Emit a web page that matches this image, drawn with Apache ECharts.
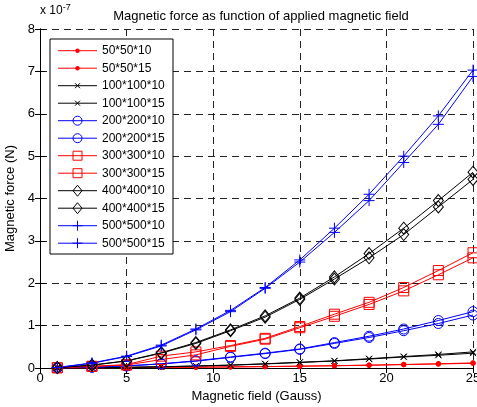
<!DOCTYPE html>
<html><head><meta charset="utf-8">
<script src="https://cdn.jsdelivr.net/npm/echarts@6/dist/echarts.min.js"></script>
<style>html,body{margin:0;padding:0;background:#fff}#c{width:477px;height:407px}</style>
</head><body><div id="c"></div>
<script>
const fieldGauss = [1,3,5,7,9,11,13,15,17,19,21,23,25];
const yTickLabels = ['0','1','2','3','4','5','6','7','8'];
const xTickLabels = ['0','5','10','15','20','25'];
// force in units of 1e-7 N
const f50_10  = [0.002,0.008,0.012,0.016,0.02,0.026,0.034,0.044,0.055,0.068,0.083,0.1,0.12];
const f50_15  = [0.002,0.007,0.011,0.015,0.019,0.025,0.032,0.042,0.052,0.065,0.08,0.095,0.11];
const f100_10 = [0.003,0.008,0.016,0.03,0.048,0.07,0.1,0.135,0.17,0.22,0.27,0.32,0.38];
const f100_15 = [0.003,0.007,0.015,0.028,0.045,0.066,0.095,0.13,0.165,0.21,0.26,0.3,0.35];
const f200_10 = [0.003,0.02,0.05,0.1,0.17,0.26,0.35,0.45,0.6,0.75,0.92,1.12,1.33];
const f200_15 = [0.003,0.018,0.048,0.095,0.16,0.25,0.34,0.44,0.58,0.72,0.88,1.05,1.25];
const f300_10 = [0.005,0.04,0.08,0.28,0.38,0.53,0.7,0.98,1.27,1.55,1.9,2.3,2.72];
const f300_15 = [0.005,0.038,0.07,0.2,0.31,0.51,0.68,0.95,1.22,1.5,1.82,2.2,2.6];
const f400_10 = [0.01,0.07,0.17,0.36,0.6,0.9,1.23,1.65,2.15,2.7,3.3,3.95,4.62];
const f400_15 = [0.01,0.065,0.165,0.35,0.58,0.88,1.2,1.62,2.1,2.6,3.15,3.8,4.45];
const f500_10 = [0.012,0.12,0.28,0.54,0.92,1.36,1.9,2.55,3.3,4.1,5.0,5.95,7.03];
const f500_15 = [0.011,0.11,0.27,0.52,0.9,1.33,1.88,2.5,3.2,3.95,4.85,5.75,6.88];

const seriesNames = ['50*50*10','50*50*15','100*100*10','100*100*15','200*200*10','200*200*15','300*300*10','300*300*15','400*400*10','400*400*15','500*500*10','500*500*15'];
const seriesData = [f50_10,f50_15,f100_10,f100_15,f200_10,f200_15,f300_10,f300_15,f400_10,f400_15,f500_10,f500_15];

const RED='#ff0000', BLK='#000000', BLU='#0000ff';
const XPATH = 'path://M0,0L10,10M10,0L0,10';
const PLUS = 'path://M5,0L5,10M0,5L10,5';
const styles = [
  {c:RED, s:'circle', z:4.5, fill:true, k:'dot'},
  {c:RED, s:'circle', z:4.5, fill:true, k:'dot'},
  {c:BLK, s:XPATH, z:6, k:'x'},
  {c:BLK, s:XPATH, z:6, k:'x'},
  {c:BLU, s:'circle', z:10, k:'o'},
  {c:BLU, s:'circle', z:10, k:'o'},
  {c:RED, s:'rect', z:10, k:'sq'},
  {c:RED, s:'rect', z:10, k:'sq'},
  {c:BLK, s:'diamond', z:[10,12], k:'d'},
  {c:BLK, s:'diamond', z:[10,12], k:'d'},
  {c:BLU, s:PLUS, z:11, k:'+'},
  {c:BLU, s:PLUS, z:11, k:'+'}
];

const series = seriesNames.map((n,i)=>({
  name:n, type:'line',
  data: fieldGauss.map((x,j)=>[x, seriesData[i][j]]),
  symbol: styles[i].s, symbolSize: styles[i].z, showSymbol:true,
  lineStyle:{color:styles[i].c, width:1},
  itemStyle:{color: styles[i].fill ? styles[i].c : 'rgba(0,0,0,0)', borderColor:styles[i].c, borderWidth:1},
  emphasis:{disabled:true}, animation:false, clip:false, z: 2
}));

// legend drawn as graphic elements (layout only)
const LX = 50, LY = 39, LW = 123, LH = 215, ROW0 = 50.7, ROWH = 17.5;
function legendSymbol(k, c, cx, cy){
  const st = {stroke:c, fill:'none', lineWidth:1};
  switch(k){
    case 'dot': return [{type:'circle', shape:{cx, cy, r:2.2}, style:{fill:c}}];
    case 'x': return [
      {type:'line', shape:{x1:cx-2.5,y1:cy-2.5,x2:cx+2.5,y2:cy+2.5}, style:st},
      {type:'line', shape:{x1:cx+2.5,y1:cy-2.5,x2:cx-2.5,y2:cy+2.5}, style:st}];
    case 'o': return [{type:'circle', shape:{cx, cy, r:4.5}, style:st}];
    case 'sq': return [{type:'rect', shape:{x:cx-4.5, y:cy-4.5, width:9, height:9}, style:st}];
    case 'd': return [{type:'polygon', shape:{points:[[cx,cy-5.5],[cx+4.5,cy],[cx,cy+5.5],[cx-4.5,cy]]}, style:st}];
    case '+': return [
      {type:'line', shape:{x1:cx-5,y1:cy,x2:cx+5,y2:cy}, style:st},
      {type:'line', shape:{x1:cx,y1:cy-5,x2:cx,y2:cy+5}, style:st}];
  }
}
const FONT = 'Liberation Sans, Arial, sans-serif';
const legendEls = [{type:'rect', shape:{x:LX, y:LY, width:LW, height:LH}, style:{fill:'#fff', stroke:'#000', lineWidth:1}, z:100}];
seriesNames.forEach((n,i)=>{
  const y = ROW0 + i*ROWH;
  legendEls.push({type:'line', shape:{x1:58, y1:y, x2:97, y2:y}, style:{stroke:styles[i].c, lineWidth:1}, z:101});
  legendSymbol(styles[i].k, styles[i].c, 77.5, y).forEach(e=>{ e.z = 102; legendEls.push(e); });
  legendEls.push({type:'text', x:102, y:y, style:{text:n, fontSize:12, fill:'#000', fontFamily:FONT, verticalAlign:'middle'}, z:102});
});

const chart = echarts.init(document.getElementById('c'), null, {renderer:'canvas'});
chart.setOption({
  animation:false,
  textStyle:{fontFamily:FONT},
  title:{text:'Magnetic force as function of applied magnetic field', left:256, textAlign:'center', top:5,
    textStyle:{fontSize:13, fontWeight:'normal', color:'#000', fontFamily:FONT}},
  graphic:[{type:'text', left:40, top:3, style:{text:'x 10{s|-7}', rich:{s:{fontSize:9, verticalAlign:'top', padding:[0,0,6,0]}}, fontSize:12, fill:'#000', fontFamily:FONT}}].concat(legendEls),
  grid:{left:40, top:29, width:433, height:339, show:false, containLabel:false, outerBoundsMode:'none'},
  xAxis:[{type:'value', min:0, max:25, interval:5,
    name:'Magnetic field (Gauss)', nameLocation:'middle', nameGap:22,
    nameTextStyle:{fontSize:13, color:'#000'},
    axisLine:{show:true, lineStyle:{color:'#000'}}, axisTick:{inside:true, length:5, lineStyle:{color:'#000'}},
    axisLabel:{fontSize:13, color:'#000', margin:4, formatter:(v)=>xTickLabels[Math.round(v/5)]},
    splitLine:{show:true, lineStyle:{color:'#222', type:[7,5], width:1}}},
   {type:'value', position:'top', min:0, max:25, interval:5,
    axisLine:{show:true, lineStyle:{color:'#000'}}, axisTick:{inside:true, length:5, lineStyle:{color:'#000'}},
    axisLabel:{show:false}, splitLine:{show:false}}],
  yAxis:[{type:'value', min:0, max:8, interval:1,
    name:'Magnetic force (N)', nameLocation:'middle', nameGap:22,
    nameTextStyle:{fontSize:13, color:'#000'},
    axisLine:{show:true, lineStyle:{color:'#000'}}, axisTick:{inside:true, length:5, lineStyle:{color:'#000'}},
    axisLabel:{fontSize:13, color:'#000', margin:5, formatter:(v)=>yTickLabels[Math.round(v)]},
    splitLine:{show:true, lineStyle:{color:'#222', type:[7,5], width:1}}},
   {type:'value', position:'right', min:0, max:8, interval:1,
    axisLine:{show:true, lineStyle:{color:'#000'}}, axisTick:{inside:true, length:5, lineStyle:{color:'#000'}},
    axisLabel:{show:false}, splitLine:{show:false}}],
  series: series
});
</script></body></html>
